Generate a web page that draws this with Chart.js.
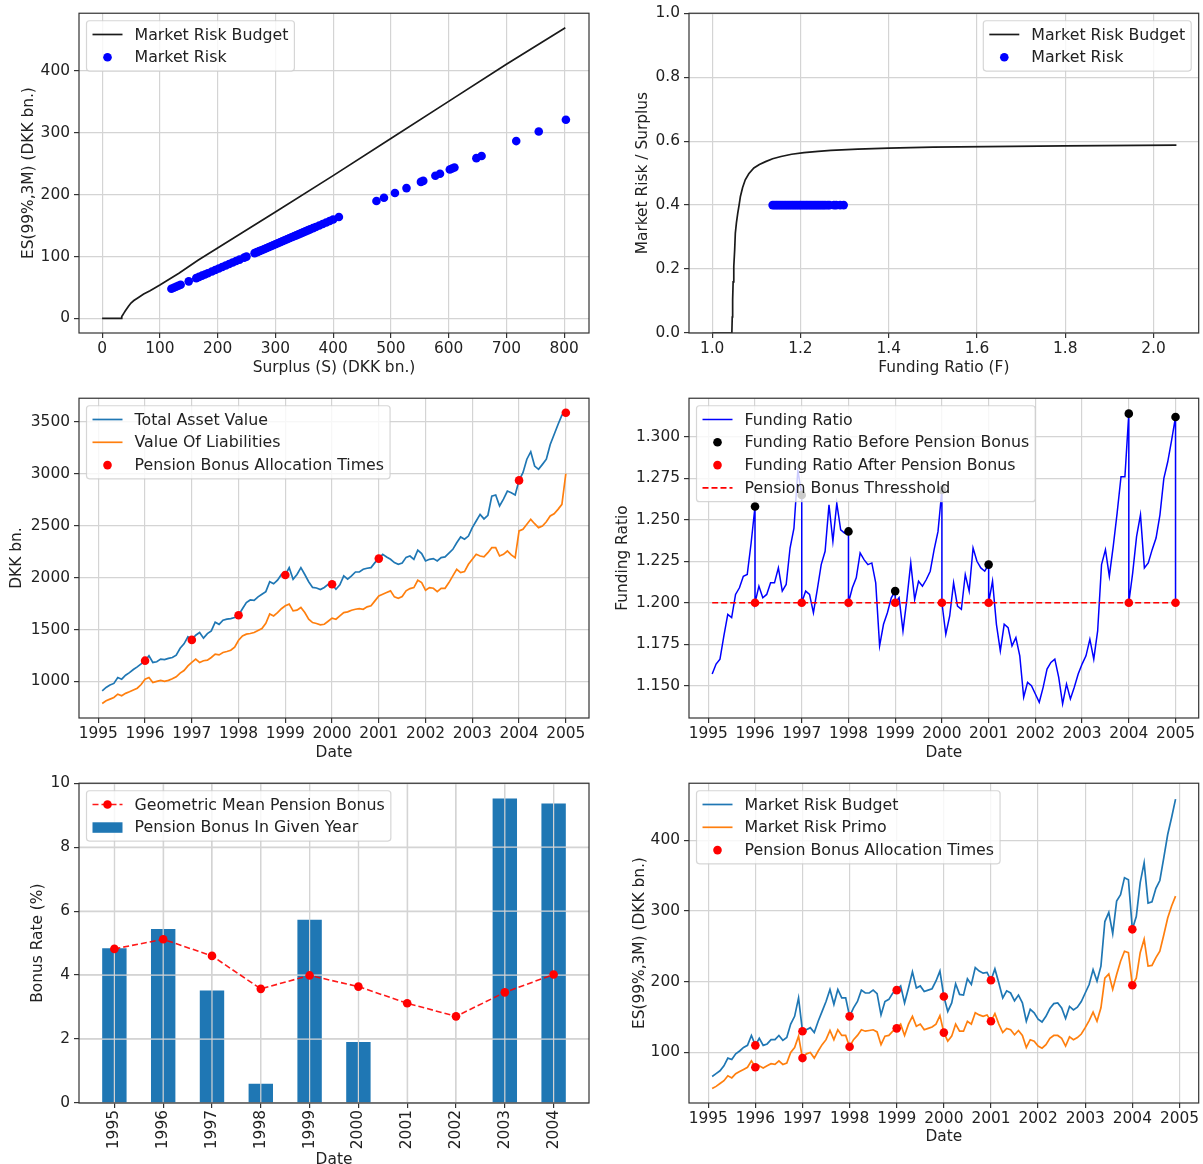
<!DOCTYPE html>
<html lang="en">
<head>
<meta charset="UTF-8">
<title>Pension Fund | Market Risk Budget</title>
<script src="https://cdn.jsdelivr.net/npm/chart.js"></script>
<style>
    body { margin: 0; background: #FFFFFF; }
    canvas { position: absolute; }
</style>
</head>
<body>
<canvas id="c1" style="left:0;top:0" width="600" height="385"></canvas>
<canvas id="c2" style="left:600px;top:0" width="603" height="385"></canvas>
<canvas id="c3" style="left:0;top:385px" width="600" height="385"></canvas>
<canvas id="c4" style="left:600px;top:385px" width="603" height="385"></canvas>
<canvas id="c5" style="left:0;top:770px" width="600" height="394"></canvas>
<canvas id="c6" style="left:600px;top:770px" width="603" height="394"></canvas>

<script>
    // ---- panel 1: budget vs surplus
    const budgetSurplus = [0, 33, 34, 36, 38, 40, 43, 46, 50, 55, 63, 72, 83, 100, 133, 166, 200, 300, 400, 500, 600, 700, 802];
    const budgetES = [0, 0, 3, 6, 9, 12, 16, 20, 25, 29, 34, 39.5, 45, 54, 73, 94, 114, 172, 231, 291, 351, 411, 470];
    const riskSurplus = [120, 124, 128, 132, 136, 150, 163, 168, 173, 178, 183, 190, 196, 202, 208, 214, 220, 226,
        232, 238, 246, 250, 264, 268, 272, 276, 280, 284, 288, 292, 296, 300, 304, 308, 312, 316, 320, 324, 328, 332,
        336, 340, 344, 348, 352, 356, 360, 365, 370, 376, 382, 388, 394, 400, 410, 475, 488, 507, 527, 552, 556, 577,
        585, 602, 606, 610, 648, 657, 717, 756, 803];
    const riskES = [48, 49.6, 51.2, 52.8, 54.4, 60, 65.2, 67.2, 69.2, 71.2, 73.2, 76, 78.4, 80.8, 83.2, 85.6, 88, 90.4,
        92.8, 95.2, 98.4, 100, 105.6, 107.2, 108.8, 110.4, 112, 113.6, 115.2, 116.8, 118.4, 120, 121.6, 123.2, 124.8,
        126.4, 128, 129.6, 131.2, 132.8, 134.4, 136, 137.6, 139.2, 140.8, 142.4, 144, 146, 148, 150.4, 152.8, 155.2,
        157.6, 160, 164, 190, 195.2, 202.8, 210.8, 220.8, 222.4, 230.8, 234, 240.8, 242.4, 244, 259.2, 262.8, 286.8,
        302.4, 321.2];

    // ---- panel 2: budget / surplus vs funding ratio
    const budgetF = [1.0, 1.0446, 1.0455, 1.0464, 1.0475, 1.049, 1.051, 1.0525, 1.055, 1.058, 1.061, 1.064, 1.069,
        1.075, 1.083, 1.0945, 1.107, 1.121, 1.137, 1.156, 1.18, 1.208, 1.24, 1.269, 1.33, 1.40, 1.5, 1.62, 1.8, 2.052];
    const budgetRatio = [0, 0, 0.05, 0.104, 0.16, 0.208, 0.26, 0.3125, 0.345, 0.375, 0.40, 0.427, 0.455,
        0.479, 0.498, 0.516, 0.527, 0.536, 0.545, 0.552, 0.559, 0.564, 0.568, 0.571, 0.575, 0.578, 0.581, 0.583, 0.585, 0.5875];
    const riskF = [1.137, 1.141, 1.145, 1.149, 1.153, 1.157, 1.161, 1.165, 1.169, 1.173, 1.177, 1.181, 1.185, 1.189,
        1.193, 1.197, 1.201, 1.205, 1.209, 1.213, 1.217, 1.221, 1.225, 1.229, 1.233, 1.237, 1.241, 1.245, 1.249, 1.253,
        1.257, 1.262, 1.266, 1.276, 1.281, 1.290, 1.298];
    const riskRatio = [0.4, 0.4, 0.4, 0.4, 0.4, 0.4, 0.4, 0.4, 0.4, 0.4, 0.4, 0.4, 0.4, 0.4, 0.4, 0.4, 0.4, 0.4, 0.4,
        0.4, 0.4, 0.4, 0.4, 0.4, 0.4, 0.4, 0.4, 0.4, 0.4, 0.4, 0.4, 0.4, 0.4, 0.4, 0.4, 0.4, 0.4];

    // ---- monthly series, Feb 1995 .. Jan 2005 (month-end points)
    const startYear = 1995;
    const bonusYears = [1996, 1997, 1998, 1999, 2000, 2001, 2004, 2005];
    const bonusThreshold = 1.2;

    const assetValue = [
        910, 942, 965, 981, 1038, 1022, 1060, 1085, 1115, 1140, 1170, 1200,
        1247, 1183, 1190, 1215, 1210, 1222, 1231, 1253, 1320, 1362, 1429, 1400,
        1445, 1471, 1417, 1460, 1487, 1570, 1550, 1590, 1600, 1605, 1615, 1638,
        1700, 1760, 1785, 1780, 1815, 1840, 1865, 1960, 1940, 1975, 2030, 2025,
        2096, 1984, 2030, 2096, 2030, 1960, 1905, 1900, 1885, 1905, 1935, 1936,
        1888, 1930, 2016, 1984, 2016, 2054, 2054, 2080, 2090, 2096, 2144, 2183,
        2224, 2199, 2176, 2144, 2128, 2140, 2195, 2208, 2176, 2265, 2231, 2160,
        2176, 2183, 2160, 2192, 2199, 2235, 2272, 2336, 2391, 2369, 2400, 2481,
        2545, 2609, 2565, 2600, 2785, 2795, 2690, 2755, 2833, 2817, 2795, 2936,
        3010, 3140, 3212, 3074, 3042, 3090, 3140, 3282, 3378, 3474, 3564, 3587];
    const liabilities = [
        788, 814, 830, 846, 878, 862, 885, 900, 917, 935, 970, 1022,
        1038, 990, 1000, 1010, 1000, 1010, 1025, 1045, 1080, 1105, 1150, 1183,
        1215, 1183, 1199, 1205, 1231, 1263, 1256, 1279, 1288, 1300, 1330, 1397,
        1439, 1455, 1462, 1471, 1490, 1510, 1560, 1650, 1631, 1663, 1700, 1728,
        1744, 1680, 1686, 1712, 1663, 1599, 1567, 1558, 1545, 1551, 1580, 1610,
        1599, 1631, 1663, 1670, 1686, 1695, 1702, 1695, 1718, 1728, 1776, 1824,
        1840, 1856, 1872, 1814, 1801, 1817, 1872, 1894, 1904, 1974, 1952, 1878,
        1904, 1897, 1865, 1897, 1897, 1952, 2016, 2080, 2048, 2058, 2128, 2176,
        2224, 2208, 2199, 2240, 2288, 2288, 2208, 2224, 2256, 2218, 2192, 2449,
        2465, 2513, 2561, 2519, 2481, 2497, 2538, 2593, 2615, 2657, 2705, 3000];
    // value before the bonus is paid at the year ends
    const fundingRatio = [
        1.157, 1.163, 1.166, 1.180, 1.193, 1.191, 1.205, 1.209, 1.216, 1.217, 1.236, 1.258,
        1.210, 1.203, 1.205, 1.212, 1.212, 1.221, 1.207, 1.211, 1.233, 1.245, 1.280, 1.265,
        1.207, 1.205, 1.194, 1.208, 1.223, 1.231, 1.259, 1.237, 1.260, 1.244, 1.242, 1.243,
        1.209, 1.215, 1.230, 1.226, 1.223, 1.224, 1.212, 1.174, 1.187, 1.194, 1.203, 1.207,
        1.203, 1.183, 1.202, 1.224, 1.202, 1.213, 1.210, 1.214, 1.219, 1.232, 1.243, 1.268,
        1.181, 1.192, 1.212, 1.198, 1.196, 1.217, 1.207, 1.233, 1.225, 1.221, 1.219, 1.223,
        1.213, 1.187, 1.171, 1.187, 1.185, 1.174, 1.179, 1.168, 1.143, 1.152, 1.150, 1.145,
        1.140, 1.149, 1.160, 1.164, 1.166, 1.155, 1.139, 1.151, 1.142, 1.149, 1.157, 1.163,
        1.168, 1.178, 1.166, 1.183, 1.223, 1.232, 1.216, 1.234, 1.254, 1.276, 1.276, 1.314,
        1.218, 1.240, 1.253, 1.221, 1.224, 1.232, 1.239, 1.253, 1.275, 1.285, 1.298, 1.312];
    const riskBudget = [
        66, 70, 74, 81, 92, 90, 98, 102, 107, 110, 124, 110,
        120, 110, 112, 118, 118, 124, 117, 121, 140, 151, 177, 130,
        132, 135, 128, 144, 158, 172, 189, 168, 189, 177, 177, 151,
        163, 172, 188, 184, 184, 188, 183, 153, 172, 175, 184, 188,
        194, 170, 191, 214, 191, 194, 186, 188, 190, 201, 215, 179,
        158, 170, 197, 182, 181, 204, 196, 220, 215, 212, 213, 202,
        218, 198, 177, 187, 184, 173, 181, 170, 144, 161, 156, 147,
        143, 151, 162, 169, 170, 163, 148, 165, 160, 164, 172, 184,
        196, 217, 201, 222, 285, 298, 268, 314, 323, 347, 344, 274,
        292, 340, 368, 311, 313, 332, 343, 375, 408, 432, 458];
    const riskPrimo = [
        49, 52, 56, 60, 67, 64, 70, 73, 76, 79, 88, 79,
        81, 78, 81, 84, 83, 88, 83, 85, 100, 107, 123, 92,
        98, 100, 92, 102, 111, 118, 131, 118, 132, 124, 124, 108,
        118, 124, 132, 130, 131, 132, 129, 111, 123, 124, 130, 134,
        140, 124, 140, 151, 137, 140, 132, 134, 136, 140, 152, 128,
        116, 123, 140, 130, 130, 144, 140, 156, 153, 151, 153, 144,
        155, 140, 128, 134, 132, 125, 131, 124, 107, 118, 116, 109,
        106, 111, 120, 124, 124, 120, 109, 122, 118, 121, 126, 135,
        145, 157, 144, 163, 205, 211, 189, 210, 229, 243, 241, 195,
        205, 241, 260, 222, 223, 234, 243, 266, 290, 307, 321];

    // ---- panel 5: yearly bonus
    const bonusYearLabels = ['1995', '1996', '1997', '1998', '1999', '2000', '2001', '2002', '2003', '2004'];
    const bonusRate = [4.84, 5.44, 3.52, 0.60, 5.73, 1.91, 0, 0, 9.52, 9.37];
    const geoMeanBonus = [4.82, 5.12, 4.60, 3.57, 3.99, 3.64, 3.12, 2.71, 3.46, 4.02];

    // ---- tick labels
    const ticksSurplus = [0, 100, 200, 300, 400, 500, 600, 700, 800];
    const ticksES1 = [0, 100, 200, 300, 400];
    const ticksF = [1.0, 1.2, 1.4, 1.6, 1.8, 2.0];
    const ticksRatio = [0.0, 0.2, 0.4, 0.6, 0.8, 1.0];
    const ticksYears = [1995, 1996, 1997, 1998, 1999, 2000, 2001, 2002, 2003, 2004, 2005];
    const ticksDKK = [1000, 1500, 2000, 2500, 3000, 3500];
    const ticksFR = [1.150, 1.175, 1.200, 1.225, 1.250, 1.275, 1.300];
    const ticksBonus = [0, 2, 4, 6, 8, 10];
    const ticksES6 = [100, 200, 300, 400];

    const GRID = '#d4d4d4';
    const TXT = '#222222';
    Chart.defaults.font.family = '"DejaVu Sans", sans-serif';
    Chart.defaults.font.size = 15.4;
    Chart.defaults.color = TXT;

    const pts = (xs, ys) => xs.map((x, i) => ({ x: x, y: ys[i] }));
    const monthT = k => startYear + k / 12;
    const bonusK = bonusYears.map(y => (y - startYear) * 12);

    // black frame round the plot area, like matplotlib spines
    const frame = {
        id: 'frame',
        afterDatasetsDraw(chart) {
            const { ctx, chartArea: a } = chart;
            ctx.save();
            ctx.strokeStyle = '#333';
            ctx.lineWidth = 1.2;
            ctx.strokeRect(a.left, a.top, a.right - a.left, a.bottom - a.top);
            ctx.restore();
        }
    };

    // matplotlib puts grid lines above bars
    const gridOverBars = {
        id: 'gridOverBars',
        afterDatasetDraw(chart, args) {
            if (args.meta.type !== 'bar') return;
            const { ctx, chartArea: a, scales } = chart;
            ctx.save();
            ctx.strokeStyle = GRID;
            ctx.lineWidth = 1.2;
            ctx.beginPath();
            scales.x.ticks.forEach(t => {
                const p = scales.x.getPixelForValue(t.value);
                ctx.moveTo(p, a.top); ctx.lineTo(p, a.bottom);
            });
            scales.y.ticks.forEach(t => {
                const p = scales.y.getPixelForValue(t.value);
                ctx.moveTo(a.left, p); ctx.lineTo(a.right, p);
            });
            ctx.stroke();
            ctx.restore();
        }
    };

    // legend drawn inside the axes
    const mplLegend = {
        id: 'mplLegend',
        afterDraw(chart, args, opts) {
            const { ctx, chartArea: a } = chart;
            const pad = 6, hl = 30, htp = 12, rowH = 15.5, gap = 7.3, axPad = 7.5;
            const items = chart.data.datasets;
            ctx.save();
            ctx.font = '15.8px "DejaVu Sans"';
            const tw = Math.max(...items.map(d => ctx.measureText(d.label).width));
            const w = pad * 2 + hl + htp + tw;
            const h = pad * 2 + items.length * rowH + (items.length - 1) * gap;
            const x = opts.corner === 'ur' ? a.right - axPad - w : a.left + axPad;
            const y = a.top + axPad;

            ctx.globalAlpha = 0.8;
            ctx.fillStyle = '#fff';
            ctx.strokeStyle = '#cccccc';
            ctx.lineWidth = 1.2;
            ctx.beginPath();
            ctx.roundRect(x, y, w, h, 3);
            ctx.fill();
            ctx.stroke();
            ctx.globalAlpha = 1;

            items.forEach((d, i) => {
                const cy = y + pad + i * (rowH + gap) + rowH / 2;
                const hx = x + pad;
                const isBar = d.type === 'bar';
                if (isBar) {
                    ctx.fillStyle = d.backgroundColor;
                    ctx.fillRect(hx, cy - 5, hl, 10.5);
                } else {
                    if (d.showLine !== false) {
                        ctx.strokeStyle = d.borderColor;
                        ctx.lineWidth = d.borderWidth;
                        ctx.setLineDash(d.borderDash || []);
                        ctx.beginPath();
                        ctx.moveTo(hx, cy); ctx.lineTo(hx + hl, cy);
                        ctx.stroke();
                        ctx.setLineDash([]);
                    }
                    if (d.pointRadius > 0) {
                        ctx.fillStyle = d.pointBackgroundColor;
                        ctx.beginPath();
                        ctx.arc(hx + hl / 2, cy, d.pointRadius, 0, Math.PI * 2);
                        ctx.fill();
                    }
                }
                ctx.fillStyle = TXT;
                ctx.textBaseline = 'middle';
                ctx.textAlign = 'left';
                ctx.fillText(d.label, hx + hl + htp, cy + 1);
            });
            ctx.restore();
        }
    };
    Chart.register(frame, gridOverBars, mplLegend);

    function axis(o) {
        return {
            type: 'linear',
            min: o.min,
            max: o.max,
            offset: false,
            grid: { color: GRID, lineWidth: 1.2, tickColor: '#333', tickLength: 5, tickWidth: 1.2, offset: false },
            border: { display: false },
            ticks: {
                autoSkip: false,
                maxRotation: o.rot || 0,
                minRotation: o.rot || 0,
                padding: o.pad,
                callback: o.fmt
            },
            title: { display: true, text: o.title, padding: o.titlePad },
            afterBuildTicks: s => { s.ticks = o.ticks.map(v => ({ value: v })); },
            afterFit: s => {
                if (o.w) s.width = o.w;
                if (o.h) s.height = o.h;
            }
        };
    }

    function baseOptions(right, corner, xAxis, yAxis) {
        return {
            responsive: false,
            animation: false,
            devicePixelRatio: 1,
            events: [],
            layout: { padding: { top: 13, right: right, left: 0, bottom: 0 } },
            plugins: {
                legend: { display: false },
                tooltip: { enabled: false },
                mplLegend: { corner: corner }
            },
            scales: { x: xAxis, y: yAxis }
        };
    }

    const lineDs = (label, data, color, width, order, dash) => ({
        label: label, data: data, showLine: true, borderColor: color, borderWidth: width,
        borderDash: dash || [], pointRadius: 0, pointHoverRadius: 0, tension: 0, order: order
    });
    const dotDs = (label, data, color, order) => ({
        label: label, data: data, showLine: false, pointRadius: 4.3, pointHoverRadius: 4.3,
        pointBackgroundColor: color, pointBorderWidth: 0, order: order
    });
    const yearFmt = v => String(v);

    // ---------- panel 1
    new Chart(document.getElementById('c1'), {
        type: 'scatter',
        data: {
            datasets: [
                lineDs('Market Risk Budget', pts(budgetSurplus, budgetES), '#1a1a1a', 1.7, 2),
                dotDs('Market Risk', pts(riskSurplus, riskES), '#0000ff', 1)
            ]
        },
        options: baseOptions(11, 'ul',
            axis({ min: -40, max: 843, ticks: ticksSurplus, fmt: v => String(v), pad: 2, h: 52,
                title: 'Surplus (S) (DKK bn.)', titlePad: { bottom: 8 } }),
            axis({ min: -23.5, max: 493.5, ticks: ticksES1, fmt: v => String(v), pad: 4, w: 79,
                title: 'ES(99%,3M) (DKK bn.)', titlePad: { top: 20 } }))
    });

    // ---------- panel 2
    new Chart(document.getElementById('c2'), {
        type: 'scatter',
        data: {
            datasets: [
                lineDs('Market Risk Budget', pts(budgetF, budgetRatio), '#1a1a1a', 1.7, 2),
                dotDs('Market Risk', pts(riskF, riskRatio), '#0000ff', 1)
            ]
        },
        options: baseOptions(4, 'ur',
            axis({ min: 0.9475, max: 2.1025, ticks: ticksF, fmt: v => v.toFixed(1), pad: 2, h: 52,
                title: 'Funding Ratio (F)', titlePad: { bottom: 8 } }),
            axis({ min: 0, max: 1, ticks: ticksRatio, fmt: v => v.toFixed(1), pad: 4, w: 89,
                title: 'Market Risk / Surplus', titlePad: { top: 34 } }))
    });

    // ---------- panel 3
    const assetPts = assetValue.map((v, i) => ({ x: monthT(i + 1), y: v }));
    const liabPts = liabilities.map((v, i) => ({ x: monthT(i + 1), y: v }));
    const bonusAssetPts = bonusK.map(k => ({ x: monthT(k), y: assetValue[k - 1] }));
    new Chart(document.getElementById('c3'), {
        type: 'scatter',
        data: {
            datasets: [
                lineDs('Total Asset Value', assetPts, '#1f77b4', 1.7, 3),
                lineDs('Value Of Liabilities', liabPts, '#ff7f0e', 1.7, 2),
                dotDs('Pension Bonus Allocation Times', bonusAssetPts, '#ff0000', 1)
            ]
        },
        options: baseOptions(11, 'ul',
            axis({ min: 1994.587, max: 2005.496, ticks: ticksYears, fmt: yearFmt, pad: 2, h: 52,
                title: 'Date', titlePad: { bottom: 8 } }),
            axis({ min: 648, max: 3727, ticks: ticksDKK, fmt: v => String(v), pad: 4, w: 79,
                title: 'DKK bn.', titlePad: { top: 8 } }))
    });

    // ---------- panel 4
    const frPts = [];
    fundingRatio.forEach((v, i) => {
        const k = i + 1;
        frPts.push({ x: monthT(k), y: v });
        if (bonusK.includes(k)) frPts.push({ x: monthT(k), y: bonusThreshold });
    });
    const beforePts = bonusK.map(k => ({ x: monthT(k), y: fundingRatio[k - 1] }));
    const afterPts = bonusK.map(k => ({ x: monthT(k), y: bonusThreshold }));
    const threshPts = fundingRatio.map((v, i) => ({ x: monthT(i + 1), y: bonusThreshold }));
    new Chart(document.getElementById('c4'), {
        type: 'scatter',
        data: {
            datasets: [
                lineDs('Funding Ratio', frPts, '#0000ff', 1.5, 4),
                dotDs('Funding Ratio Before Pension Bonus', beforePts, '#000000', 2),
                dotDs('Funding Ratio After Pension Bonus', afterPts, '#ff0000', 1),
                lineDs('Pension Bonus Thresshold', threshPts, '#ff0000', 1.6, 3, [6, 3])
            ]
        },
        options: baseOptions(4, 'ul',
            axis({ min: 1994.587, max: 2005.496, ticks: ticksYears, fmt: yearFmt, pad: 2, h: 52,
                title: 'Date', titlePad: { bottom: 8 } }),
            axis({ min: 1.1305, max: 1.3233, ticks: ticksFR, fmt: v => v.toFixed(3), pad: 4, w: 89,
                title: 'Funding Ratio', titlePad: { top: 14 } }))
    });

    // ---------- panel 5
    new Chart(document.getElementById('c5'), {
        type: 'bar',
        data: {
            datasets: [
                {
                    type: 'line', label: 'Geometric Mean Pension Bonus',
                    data: geoMeanBonus.map((v, i) => ({ x: i, y: v })),
                    borderColor: 'rgba(255,0,0,0.9)', borderWidth: 1.6, borderDash: [6, 3],
                    pointRadius: 4.3, pointHoverRadius: 4.3, pointBackgroundColor: '#ff0000',
                    pointBorderWidth: 0, tension: 0, order: 1
                },
                {
                    type: 'bar', label: 'Pension Bonus In Given Year',
                    data: bonusRate.map((v, i) => ({ x: i, y: v })),
                    backgroundColor: '#1f77b4', barPercentage: 0.5, categoryPercentage: 1, order: 2
                }
            ]
        },
        options: baseOptions(11, 'ul',
            axis({ min: -0.725, max: 9.725, ticks: [0, 1, 2, 3, 4, 5, 6, 7, 8, 9], fmt: v => bonusYearLabels[v],
                pad: 2, rot: 90, h: 61, title: 'Date', titlePad: { bottom: -5 } }),
            axis({ min: 0, max: 10, ticks: ticksBonus, fmt: v => String(v), pad: 4, w: 79,
                title: 'Bonus Rate (%)', titlePad: { top: 29 } }))
    });

    // ---------- panel 6
    const budgetPts = riskBudget.map((v, i) => ({ x: monthT(i + 1), y: v }));
    const primoPts = riskPrimo.map((v, i) => ({ x: monthT(i + 1), y: v }));
    const bonusRiskPts = [];
    bonusK.filter(k => k <= riskBudget.length).forEach(k => {
        bonusRiskPts.push({ x: monthT(k), y: riskBudget[k - 1] });
        bonusRiskPts.push({ x: monthT(k), y: riskPrimo[k - 1] });
    });
    new Chart(document.getElementById('c6'), {
        type: 'scatter',
        data: {
            datasets: [
                lineDs('Market Risk Budget', budgetPts, '#1f77b4', 1.7, 3),
                lineDs('Market Risk Primo', primoPts, '#ff7f0e', 1.7, 2),
                dotDs('Pension Bonus Allocation Times', bonusRiskPts, '#ff0000', 1)
            ]
        },
        options: baseOptions(4, 'ul',
            axis({ min: 1994.592, max: 2005.408, ticks: ticksYears, fmt: yearFmt, pad: 2, h: 61,
                title: 'Date', titlePad: { bottom: 18 } }),
            axis({ min: 28.5, max: 480.5, ticks: ticksES6, fmt: v => String(v), pad: 4, w: 89,
                title: 'ES(99%,3M) (DKK bn.)', titlePad: { top: 31 } }))
    });
</script>
</body>
</html>
